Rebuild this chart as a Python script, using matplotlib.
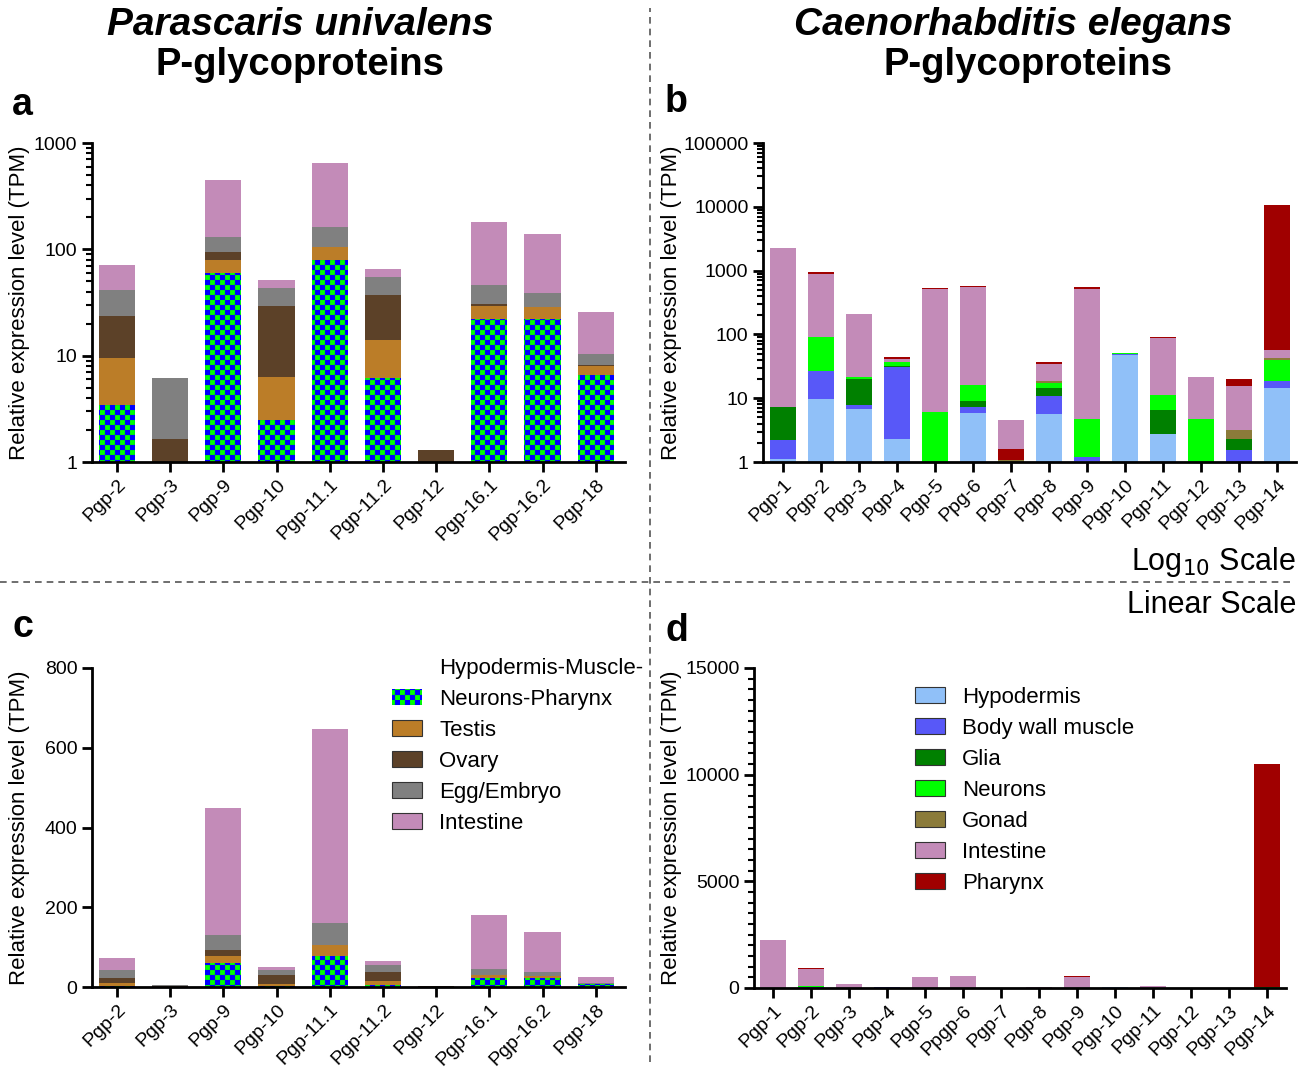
import warnings
import numpy as np
import matplotlib
matplotlib.use("Agg")
import matplotlib.pyplot as plt
import matplotlib.hatch as mhatch
import matplotlib.patches as mpatches
from matplotlib.path import Path
from matplotlib.lines import Line2D
from matplotlib.ticker import FixedLocator, LogLocator, NullFormatter, MultipleLocator, FuncFormatter

warnings.filterwarnings("ignore")

plt.rcParams['font.family'] = ['Liberation Sans', 'DejaVu Sans']
plt.rcParams['hatch.color'] = '#0000ff'
plt.rcParams['hatch.linewidth'] = 0.1

# --- Parascaris univalens (pannelli a, c) ---
geni_pu = ["Pgp-2", "Pgp-3", "Pgp-9", "Pgp-10", "Pgp-11.1", "Pgp-11.2",
           "Pgp-12", "Pgp-16.1", "Pgp-16.2", "Pgp-18"]
pu_hmnp = [3.4, 0, 59.4, 2.5, 78.7, 6.1, 0, 21.9, 21.9, 6.6]
pu_testis = [6.2, 0, 19.3, 3.8, 26.3, 7.8, 0, 7.7, 6.5, 1.45]
pu_ovary = [14.2, 1.65, 15.0, 23.3, 0.5, 22.9, 1.3, 0.7, 0.2, 0.1]
pu_egg = [18.0, 4.45, 36.0, 13.3, 55.5, 17.6, 0, 15.5, 9.9, 2.15]
pu_intestine = [30.0, 0, 318.0, 8.1, 487.0, 10.4, 0, 134.0, 99.5, 15.3]

# --- Caenorhabditis elegans (pannelli b, d) ---
geni_ce = ["Pgp-1", "Pgp-2", "Pgp-3", "Pgp-4", "Pgp-5", "Pgp-6", "Pgp-7",
           "Pgp-8", "Pgp-9", "Pgp-10", "Pgp-11", "Pgp-12", "Pgp-13", "Pgp-14"]
etichette_b = ["Pgp-1", "Pgp-2", "Pgp-3", "Pgp-4", "Pgp-5", "Ppg-6", "Pgp-7",
               "Pgp-8", "Pgp-9", "Pgp-10", "Pgp-11", "Pgp-12", "Pgp-13", "Pgp-14"]
etichette_d = ["Pgp-1", "Pgp-2", "Pgp-3", "Pgp-4", "Pgp-5", "Ppgp-6", "Pgp-7",
               "Pgp-8", "Pgp-9", "Pgp-10", "Pgp-11", "Pgp-12", "Pgp-13", "Pgp-14"]
ce_hypodermis = [1.1, 9.7, 6.8, 2.3, 0, 5.9, 0, 5.65, 1.05, 47.5, 2.75, 0, 0, 14.4]
ce_muscle = [1.1, 17.0, 1.0, 28.5, 0, 1.4, 0, 5.15, 0.15, 1.5, 0, 0, 1.54, 4.2]
ce_glia = [5.1, 0, 12.2, 1.2, 0, 1.7, 0, 3.6, 0, 0, 3.75, 0, 0.76, 0]
ce_neurons = [0, 64.3, 1.5, 5.0, 6.1, 7.1, 0, 2.9, 3.5, 2.0, 4.7, 4.7, 0, 21.1]
ce_gonad = [0, 0, 0, 0, 0, 0, 1.07, 1.3, 0, 0, 0, 0, 0.9, 2.9]
ce_intestine = [2253, 794, 187.5, 4.0, 509, 537, 2.95, 15.8, 510, 0, 76.8, 16.8, 12.3, 14.4]
ce_pharynx = [0, 65, 0, 3.0, 19, 21, 0.53, 2.6, 38, 0, 3.0, 0, 4.5, 10443]


class CheckerHatch(mhatch.HatchPatternBase):
    """Tratteggio 'c': scacchiera di quadrati pieni."""
    def __init__(self, hatch, density):
        self.n = 10 if 'c' in hatch else 0
        self.num_vertices = 2 * self.n * self.n * 5

    def set_vertices_and_codes(self, vertices, codes):
        s = 1.0 / (2 * self.n)
        sq = np.array([[0, 0], [s, 0], [s, s], [0, s], [0, 0]])
        parts = []
        for i in range(self.n):
            for j in range(self.n):
                parts.append(sq + [2 * i * s, 2 * j * s])
                parts.append(sq + [(2 * i + 1) * s, (2 * j + 1) * s])
        vertices[:] = np.concatenate(parts)
        codes[:] = np.tile([Path.MOVETO, Path.LINETO, Path.LINETO,
                            Path.LINETO, Path.CLOSEPOLY], 2 * self.n * self.n)


mhatch._hatch_types.append(CheckerHatch)

serie_pu = {"HMNP": pu_hmnp, "Testis": pu_testis, "Ovary": pu_ovary,
            "Egg/Embryo": pu_egg, "Intestine": pu_intestine}
colori_pu = {"HMNP": "#00ff00", "Testis": "#bb7d28", "Ovary": "#5c4128",
             "Egg/Embryo": "#808080", "Intestine": "#c38bb8"}
ordine_pu = ["HMNP", "Testis", "Ovary", "Egg/Embryo", "Intestine"]

serie_ce = {"Hypodermis": ce_hypodermis, "Body wall muscle": ce_muscle,
            "Glia": ce_glia, "Neurons": ce_neurons, "Gonad": ce_gonad,
            "Intestine": ce_intestine, "Pharynx": ce_pharynx}
colori_ce = {"Hypodermis": "#90c0f8", "Body wall muscle": "#5858f8",
             "Glia": "#008000", "Neurons": "#00ff00", "Gonad": "#8b7b3a",
             "Intestine": "#c38bb8", "Pharynx": "#a00000"}
ordine_ce = ["Hypodermis", "Body wall muscle", "Glia", "Neurons", "Gonad",
             "Intestine", "Pharynx"]
eccezioni_ce = {"Pgp-7": ["Hypodermis", "Body wall muscle", "Glia", "Neurons",
                          "Gonad", "Pharynx", "Intestine"]}


def barre_impilate(ax, geni, serie, colori, ordine, eccezioni={}, width=0.68):
    for i, g in enumerate(geni):
        base = 0.0
        for nome in eccezioni.get(g, ordine):
            v = serie[nome][i]
            if v > 0:
                ax.bar(i, v, width, bottom=base, color=colori[nome], linewidth=0,
                       hatch='c' if nome == "HMNP" else None)
            base += v


def stile(ax, etichette, xlim):
    for s in ['top', 'right']:
        ax.spines[s].set_visible(False)
    ax.spines['left'].set_linewidth(2)
    ax.spines['bottom'].set_linewidth(2)
    ax.tick_params(which='major', length=7, width=2, labelsize=14, direction='out')
    ax.tick_params(which='minor', length=4, width=1.5, direction='out')
    ax.set_xticks(np.arange(len(etichette)))
    ax.set_xticklabels(etichette, rotation=45, ha='right', va='top',
                       rotation_mode='anchor', fontsize=14)
    ax.tick_params(axis='x', pad=3)
    ax.set_xlim(*xlim)
    ax.set_ylabel('Relative expression level (TPM)', fontsize=16)


def log_axis(ax, top):
    ax.set_yscale('log')
    ax.set_ylim(1, top)
    ax.yaxis.set_major_locator(FixedLocator([10 ** k for k in range(int(np.log10(top)) + 1)]))
    ax.yaxis.set_major_formatter(FuncFormatter(lambda v, p: f"{int(round(v))}"))
    ax.yaxis.set_minor_locator(LogLocator(base=10, subs=np.arange(2, 10)))
    ax.yaxis.set_minor_formatter(NullFormatter())


W, H = 1313, 1069
fig = plt.figure(figsize=(W / 100, H / 100), dpi=100)


def box(x0, x1, ytop, ybot):
    return [x0 / W, 1 - ybot / H, (x1 - x0) / W, (ybot - ytop) / H]


ax_a = fig.add_axes(box(92, 625, 143, 462))
ax_b = fig.add_axes(box(763, 1296, 143, 462))
ax_c = fig.add_axes(box(92, 625, 668, 987))
ax_d = fig.add_axes(box(754, 1286, 668, 988))

# a
log_axis(ax_a, 1000)
barre_impilate(ax_a, geni_pu, serie_pu, colori_pu, ordine_pu)
stile(ax_a, geni_pu, (-0.47, 9.55))
ax_a.yaxis.set_label_coords(-0.117, 0.5)

# b
log_axis(ax_b, 100000)
barre_impilate(ax_b, geni_ce, serie_ce, colori_ce, ordine_ce, eccezioni_ce)
stile(ax_b, etichette_b, (-0.53, 13.5))
ax_b.yaxis.set_label_coords(-0.152, 0.5)

# c
barre_impilate(ax_c, geni_pu, serie_pu, colori_pu, ordine_pu)
ax_c.set_ylim(0, 800)
ax_c.set_yticks([0, 200, 400, 600, 800])
stile(ax_c, geni_pu, (-0.47, 9.55))
ax_c.yaxis.set_label_coords(-0.117, 0.5)

# d
barre_impilate(ax_d, geni_ce, serie_ce, colori_ce, ordine_ce, eccezioni_ce)
ax_d.set_ylim(0, 15000)
ax_d.set_yticks([0, 5000, 10000, 15000])
ax_d.yaxis.set_minor_locator(MultipleLocator(500))
stile(ax_d, etichette_d, (-0.5, 13.5))
ax_d.yaxis.set_label_coords(-0.136, 0.5)

# legende
vuoto = mpatches.Patch(facecolor='none', edgecolor='none')
h_pu = [vuoto, mpatches.Patch(facecolor=colori_pu["HMNP"], hatch='c', linewidth=0)]
h_pu += [mpatches.Patch(facecolor=colori_pu[k], edgecolor='#333333', linewidth=0.8)
         for k in ordine_pu[1:]]
l_pu = ["Hypodermis-Muscle-", "Neurons-Pharynx", "Testis", "Ovary", "Egg/Embryo", "Intestine"]
fig.legend(h_pu, l_pu, loc='upper left', bbox_to_anchor=(392 / W, 1 - 658 / H),
           frameon=False, fontsize=16, borderpad=0, borderaxespad=0,
           handlelength=1.34, handleheight=0.7, handletextpad=0.79, labelspacing=0.45)

h_ce = [mpatches.Patch(facecolor=colori_ce[k], edgecolor='#333333', linewidth=0.8)
        for k in ordine_ce]
fig.legend(h_ce, ordine_ce, loc='upper left', bbox_to_anchor=(915 / W, 1 - 687 / H),
           frameon=False, fontsize=16, borderpad=0, borderaxespad=0,
           handlelength=1.34, handleheight=0.7, handletextpad=0.76, labelspacing=0.45)

# titoli
fig.text(300 / W, 1 - 25 / H, 'Parascaris univalens', fontsize=28, fontweight='bold',
         fontstyle='italic', ha='center', va='center')
fig.text(300 / W, 1 - 65 / H, 'P-glycoproteins', fontsize=27.5, fontweight='bold',
         ha='center', va='center')
fig.text(1013 / W, 1 - 25 / H, 'Caenorhabditis elegans', fontsize=28, fontweight='bold',
         fontstyle='italic', ha='center', va='center')
fig.text(1028 / W, 1 - 65 / H, 'P-glycoproteins', fontsize=27.5, fontweight='bold',
         ha='center', va='center')

for lettera, x, y in [('a', 12, 115), ('b', 665, 112), ('c', 12, 637), ('d', 665, 641)]:
    fig.text(x / W, 1 - y / H, lettera, fontsize=27, fontweight='bold', ha='left',
             va='baseline')

fig.text(1296 / W, 1 - 570 / H, r'Log$_{10}$ Scale', fontsize=22, ha='right', va='baseline')
fig.text(1296 / W, 1 - 613 / H, 'Linear Scale', fontsize=22, ha='right', va='baseline')

# linee tratteggiate di separazione
fig.add_artist(Line2D([650 / W, 650 / W], [1 - 1062 / H, 1 - 8 / H], transform=fig.transFigure,
                      color='#555555', lw=1.2, ls=(0, (4, 3))))
fig.add_artist(Line2D([0, 1295 / W], [1 - 582 / H, 1 - 582 / H], transform=fig.transFigure,
                      color='#555555', lw=1.2, ls=(0, (4, 3))))

fig.savefig('out.png', dpi=100)
